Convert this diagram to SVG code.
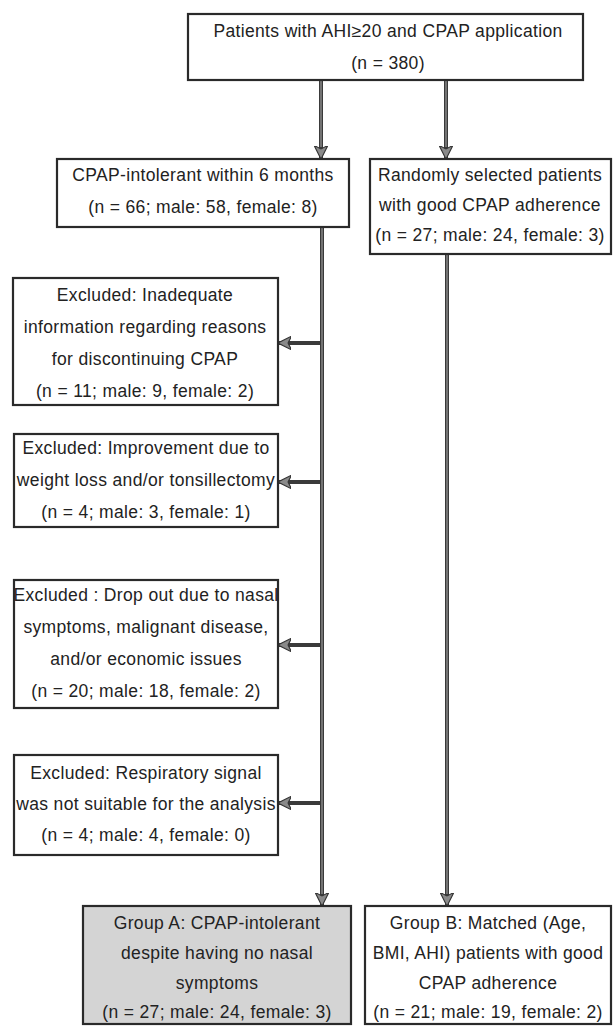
<svg xmlns="http://www.w3.org/2000/svg" width="613" height="1026" viewBox="0 0 613 1026">
<defs>
<marker id="ah" viewBox="0 0 12 12" refX="11" refY="6" markerWidth="3.4" markerHeight="3.4" orient="auto" markerUnits="strokeWidth">
<path d="M0,0 L12,6 L0,12 L3,6 Z" fill="#8a8a8a" stroke="#333" stroke-width="1"/>
</marker>
<style>
.box{fill:#fff;stroke:#2a2a2a;stroke-width:2.2}
.grey{fill:#d4d4d4}
.t{font-family:"Liberation Sans",Arial,sans-serif;font-size:17.5px;letter-spacing:0.35px;fill:#222;text-anchor:middle}
.c{fill:none;stroke:#3a3a3a;stroke-width:4}
.ci{fill:none;stroke:#9a9a9a;stroke-width:1.2}
</style>
</defs>
<g id="connectors">
<line class="c" x1="321" y1="81" x2="321" y2="158" marker-end="url(#ah)"/>
<line class="c" x1="446" y1="81" x2="446" y2="158" marker-end="url(#ah)"/>
<line class="c" x1="322" y1="228" x2="322" y2="905" marker-end="url(#ah)"/>
<line class="c" x1="447" y1="255" x2="447" y2="905" marker-end="url(#ah)"/>
<line class="c" x1="322" y1="343" x2="279" y2="343" marker-end="url(#ah)"/>
<line class="c" x1="322" y1="482" x2="279" y2="482" marker-end="url(#ah)"/>
<line class="c" x1="322" y1="645" x2="279" y2="645" marker-end="url(#ah)"/>
<line class="c" x1="322" y1="803" x2="279" y2="803" marker-end="url(#ah)"/>
<line class="ci" x1="321" y1="81" x2="321" y2="147"/>
<line class="ci" x1="446" y1="81" x2="446" y2="147"/>
<line class="ci" x1="322" y1="228" x2="322" y2="894"/>
<line class="ci" x1="447" y1="255" x2="447" y2="894"/>
</g>
<g id="n_top">
<rect class="box" x="188" y="14" width="395" height="66"/>
<text class="t" x="388" y="37">Patients with AHI≥20 and CPAP application</text>
<text class="t" x="388" y="69">(n = 380)</text>
</g>
<g id="n_intolerant">
<rect class="box" x="57" y="159" width="292" height="68"/>
<text class="t" x="203" y="181">CPAP-intolerant within 6 months</text>
<text class="t" x="203" y="213">(n = 66; male: 58, female: 8)</text>
</g>
<g id="n_random">
<rect class="box" x="370" y="159" width="241" height="95"/>
<text class="t" x="490" y="181">Randomly selected patients</text>
<text class="t" x="490" y="211">with good CPAP adherence</text>
<text class="t" x="490" y="241">(n = 27; male: 24, female: 3)</text>
</g>
<g id="n_excl1">
<rect class="box" x="13" y="278" width="265" height="127"/>
<text class="t" x="145" y="301">Excluded: Inadequate</text>
<text class="t" x="145" y="333">information regarding reasons</text>
<text class="t" x="145" y="365">for discontinuing CPAP</text>
<text class="t" x="145" y="397">(n = 11; male: 9, female: 2)</text>
</g>
<g id="n_excl2">
<rect class="box" x="14" y="434" width="264" height="93"/>
<text class="t" x="146" y="454">Excluded: Improvement due to</text>
<text class="t" x="146" y="486">weight loss and/or tonsillectomy</text>
<text class="t" x="146" y="518">(n = 4; male: 3, female: 1)</text>
</g>
<g id="n_excl3">
<rect class="box" x="14" y="580" width="264" height="128"/>
<text class="t" x="146" y="601">Excluded : Drop out due to nasal</text>
<text class="t" x="146" y="633">symptoms, malignant disease,</text>
<text class="t" x="146" y="665">and/or economic issues</text>
<text class="t" x="146" y="697">(n = 20; male: 18, female: 2)</text>
</g>
<g id="n_excl4">
<rect class="box" x="14" y="755" width="264" height="100"/>
<text class="t" x="146" y="779">Excluded: Respiratory signal</text>
<text class="t" x="146" y="810">was not suitable for the analysis</text>
<text class="t" x="146" y="841">(n = 4; male: 4, female: 0)</text>
</g>
<g id="n_groupA">
<rect class="box grey" x="83" y="906" width="268" height="118"/>
<text class="t" x="217" y="929">Group A: CPAP-intolerant</text>
<text class="t" x="217" y="959">despite having no nasal</text>
<text class="t" x="217" y="989">symptoms</text>
<text class="t" x="217" y="1018">(n = 27; male: 24, female: 3)</text>
</g>
<g id="n_groupB">
<rect class="box" x="365" y="906" width="246" height="118"/>
<text class="t" x="488" y="929">Group B: Matched (Age,</text>
<text class="t" x="488" y="959">BMI, AHI) patients with good</text>
<text class="t" x="488" y="989">CPAP adherence</text>
<text class="t" x="488" y="1018">(n = 21; male: 19, female: 2)</text>
</g>
</svg>
